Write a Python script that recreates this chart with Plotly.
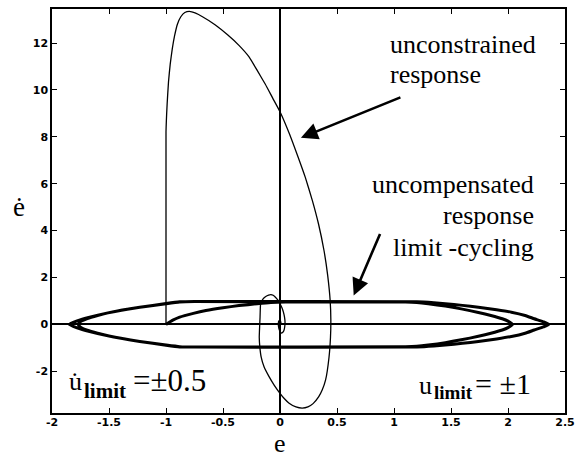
import plotly.graph_objects as go

# Phase-plane trajectories (error e vs. error rate ė)

# Unconstrained response: start at e=-1, jump in rate, then spiral into the origin
unc_e = [-1.0, -1.0, -0.99, -0.978, -0.963, -0.945, -0.925, -0.9, -0.87, -0.835,
         -0.795, -0.74, -0.68, -0.57, -0.46, -0.36, -0.27, -0.2, -0.13, -0.064,
         0.0, 0.085, 0.16, 0.222, 0.284, 0.338, 0.386, 0.418, 0.44, 0.446,
         0.443, 0.43, 0.40, 0.37, 0.34, 0.29, 0.245, 0.195, 0.14, 0.08,
         0.035, 0.0, -0.05, -0.096, -0.14, -0.165, -0.177, -0.182, -0.18, -0.175,
         -0.17, -0.15, -0.125, -0.10, -0.08, -0.06, -0.04, -0.018, 0.0, 0.018,
         0.03, 0.04, 0.044, 0.042, 0.035, 0.024, 0.012, 0.0, -0.01, -0.015,
         -0.01, 0.0, 0.008, 0.004, 0.0]
unc_de = [0.0, 8.2, 9.4, 10.35, 11.1, 11.75, 12.3, 12.8, 13.12, 13.3,
          13.35, 13.27, 13.12, 12.78, 12.35, 11.9, 11.4, 10.83, 10.25, 9.65,
          9.07, 8.1, 7.12, 6.27, 5.28, 4.28, 3.15, 2.1, 1.02, 0.2,
          -0.54, -1.4, -2.37, -2.8, -3.08, -3.38, -3.52, -3.57, -3.52, -3.36,
          -3.15, -2.94, -2.6, -2.23, -1.81, -1.4, -0.96, -0.55, -0.25, 0.3,
          0.88, 1.08, 1.19, 1.25, 1.27, 1.24, 1.16, 1.03, 0.88, 0.7,
          0.52, 0.3, 0.1, -0.08, -0.25, -0.34, -0.37, -0.3, -0.17, 0.03,
          0.15, 0.17, 0.08, -0.02, 0.0]

# Uncompensated response with rate-limited input: limit cycling
lc_e = [-1.0, -0.94, -0.88, -0.76, -0.65, -0.5, -0.36, -0.2, -0.08, 0.05,
        1.1, 1.2, 1.30, 1.45, 1.59, 1.74, 1.85, 1.95, 2.0, 2.04,
        2.0, 1.95, 1.85, 1.74, 1.59, 1.45, 1.30, 1.2, 1.1,
        -0.75, -0.88, -1.0, -1.23, -1.52, -1.67, -1.78, -1.85,
        -1.78, -1.67, -1.52, -1.23, -1.0, -0.88, -0.75,
        1.2, 1.35, 1.45, 1.6, 1.74, 1.9, 2.03, 2.15, 2.23, 2.31, 2.36,
        2.31, 2.23, 2.15, 2.03, 1.9, 1.74, 1.6, 1.45, 1.35, 1.2,
        -0.75, -0.88, -1.0, -1.23, -1.5, -1.6, -1.69, -1.75, -1.77,
        -1.75, -1.69, -1.6, -1.5, -1.23, -1.0, -0.88, -0.75, 1.1]
lc_de = [0.0, 0.18, 0.31, 0.47, 0.59, 0.71, 0.8, 0.88, 0.93, 0.95,
         0.95, 0.93, 0.88, 0.78, 0.66, 0.51, 0.38, 0.24, 0.14, 0.0,
         -0.14, -0.24, -0.38, -0.51, -0.66, -0.78, -0.88, -0.93, -0.95,
         -0.97, -0.96, -0.89, -0.73, -0.48, -0.31, -0.15, 0.0,
         0.15, 0.31, 0.48, 0.73, 0.89, 0.96, 0.97,
         0.96, 0.92, 0.88, 0.81, 0.73, 0.62, 0.52, 0.38, 0.24, 0.11, 0.0,
         -0.11, -0.24, -0.38, -0.52, -0.62, -0.73, -0.81, -0.88, -0.92, -0.96,
         -0.97, -0.95, -0.88, -0.73, -0.5, -0.38, -0.25, -0.12, 0.0,
         0.12, 0.25, 0.38, 0.5, 0.73, 0.88, 0.95, 0.97, 0.95]

x_ticks = [-2, -1.5, -1, -0.5, 0, 0.5, 1, 1.5, 2, 2.5]
x_tick_text = ["-2", "-1.5", "-1", "-0.5", "0", "0.5", "1", "1.5", "2", "2.5"]
y_ticks = [-2, 0, 2, 4, 6, 8, 10, 12]
y_tick_text = ["-2", "0", "2", "4", "6", "8", "10", "12"]

SERIF = "Liberation Serif, Times New Roman, serif"
TICKFONT = dict(family="DejaVu Sans", size=11, color="black", weight="bold")

# plot-area edges in figure pixels
L, R, T, B = 52, 567, 7, 413

fig = go.Figure()
fig.add_trace(go.Scatter(x=unc_e, y=unc_de, mode="lines",
                         line=dict(color="black", width=1.3, shape="spline", smoothing=0.4),
                         showlegend=False, hoverinfo="skip"))
fig.add_trace(go.Scatter(x=lc_e, y=lc_de, mode="lines",
                         line=dict(color="black", width=3, shape="spline", smoothing=0.5),
                         showlegend=False, hoverinfo="skip"))

axis_common = dict(showgrid=False, showline=True, linecolor="black", linewidth=1.5,
                   mirror="ticks", ticks="inside", ticklen=5, tickwidth=1.2,
                   tickcolor="black", tickfont=TICKFONT, zeroline=True,
                   zerolinecolor="black", zerolinewidth=1.6)

fig.update_xaxes(range=[-2, 2.5], tickvals=x_ticks, ticktext=x_tick_text,
                 ticklabelstandoff=-2, **axis_common)
fig.update_yaxes(range=[-3.78, 13.45], tickvals=y_ticks, ticktext=y_tick_text, **axis_common)


def px_x(p):
    return (p - 281) / 114.5


def px_y(p):
    return (324 - p) / 23.5


annotations = [
    # labels for the trajectories
    dict(x=px_x(540), y=px_y(44), text="unconstrained", xanchor="right", yanchor="middle"),
    dict(x=px_x(389), y=px_y(74), text="response", xanchor="left", yanchor="middle"),
    dict(x=px_x(538), y=px_y(184), text="uncompensated", xanchor="right", yanchor="middle"),
    dict(x=px_x(538), y=px_y(215), text="response", xanchor="right", yanchor="middle"),
    dict(x=px_x(538), y=px_y(247), text="limit -cycling", xanchor="right", yanchor="middle"),
    # input limits
    dict(x=px_x(67), y=px_y(381), text="u\u0307", xanchor="left", yanchor="middle"),
    dict(x=px_x(82), y=px_y(391), text="<b>limit</b>", xanchor="left", yanchor="middle",
         font=dict(family=SERIF, size=21, color="black")),
    dict(x=px_x(131), y=px_y(380), text="=\u00b10.5", xanchor="left", yanchor="middle",
         font=dict(family=SERIF, size=31, color="black")),
    dict(x=px_x(419), y=px_y(385), text="u", xanchor="left", yanchor="middle"),
    dict(x=px_x(434), y=px_y(392), text="<b>limit</b>", xanchor="left", yanchor="middle",
         font=dict(family=SERIF, size=19, color="black")),
    dict(x=px_x(475), y=px_y(383), text="= \u00b11", xanchor="left", yanchor="middle",
         font=dict(family=SERIF, size=30, color="black")),
]
for a in annotations:
    a.setdefault("font", dict(family=SERIF, size=26, color="black"))
    a.update(xref="x", yref="y", showarrow=False)

# arrows pointing at the curves
arrows = [
    dict(x=px_x(302), y=px_y(137), ax=101, ay=-41),
    dict(x=px_x(355), y=px_y(295), ax=27, ay=-63),
]
for a in arrows:
    a.update(xref="x", yref="y", text="", showarrow=True, arrowhead=2,
             arrowsize=1.3, arrowwidth=2.6, arrowcolor="black", standoff=0)

# axis titles, placed in figure pixels
titles = [
    dict(x=19, y=206, text="\u0117", yanchor="middle", size=27),
    dict(x=281, y=459, text="e", yanchor="bottom", size=26),
]
for t in titles:
    size = t.pop("size")
    t.update(x=(t["x"] - L) / (R - L), y=(B - t["y"]) / (B - T), xref="paper", yref="paper",
             showarrow=False, xanchor="center", borderpad=0,
             font=dict(family=SERIF, size=size, color="black"))

fig.update_layout(
    width=582, height=459,
    margin=dict(l=L, r=582 - R, t=T, b=459 - B),
    plot_bgcolor="white", paper_bgcolor="white",
    annotations=annotations + arrows + titles,
)

fig.write_html("out.html")
